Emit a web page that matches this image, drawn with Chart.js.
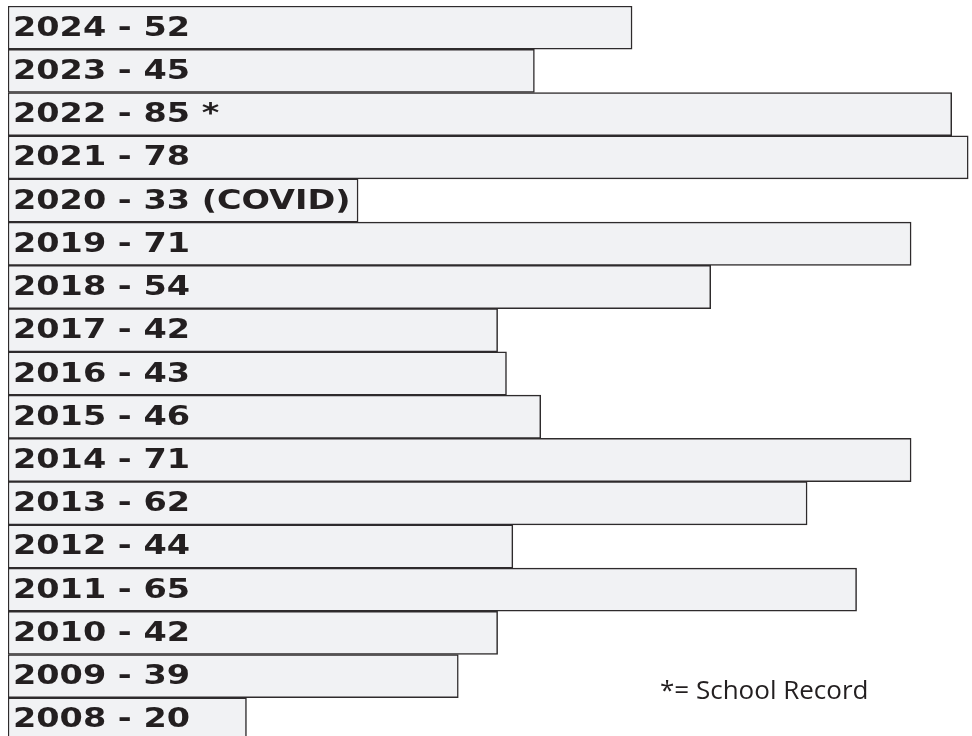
<!DOCTYPE html>
<html>
<head>
<meta charset="utf-8">
<script src="https://cdn.jsdelivr.net/npm/chart.js@4"></script>
<style>
  html, body { margin: 0; padding: 0; background: #fff; overflow: hidden; }
  #wrap { position: relative; width: 972px; height: 741px; }
</style>
</head>
<body>
<div id="wrap"><canvas id="recordChart"></canvas></div>
<script>
// seasons, top to bottom
const years = ['2024','2023','2022','2021','2020','2019','2018','2017','2016','2015','2014','2013','2012','2011','2010','2009','2008'];
// number printed in each bar
const counts = [52, 45, 85, 78, 33, 71, 54, 42, 43, 46, 71, 62, 44, 65, 42, 39, 20];
// extra text after the number
const notes = ['', '', ' *', '', ' (COVID)', '', '', '', '', '', '', '', '', '', '', '', ''];
// bar length as drawn in the picture (same units as counts, 2014 = 71)
const drawnLength = [49.2, 41.5, 74.4, 75.7, 27.6, 71.2, 55.4, 38.6, 39.3, 42.0, 71.2, 63.0, 39.8, 66.9, 38.6, 35.5, 18.8];
const footnote = '*= School Record';

const labelPlugin = {
  id: 'barLabels',
  afterDatasetsDraw(chart) {
    const c = chart.ctx;
    const meta = chart.getDatasetMeta(0);
    c.save();
    c.fillStyle = '#231f20';
    c.font = 'bold 27px "DejaVu Sans"';
    c.textBaseline = 'middle';
    meta.data.forEach((bar, i) => {
      const txt = years[i] + ' - ' + counts[i] + notes[i];
      c.save();
      c.translate(bar.base + 5, bar.y + 1);
      c.scale(1.24, 1);
      c.fillText(txt, 0, 0);
      c.restore();
    });
    // footnote
    c.font = '26px "Open Sans"';
    c.fillStyle = '#231f20';
    c.fillText(footnote, 660, 692);
    c.restore();
  }
};

new Chart(document.getElementById('recordChart'), {
  type: 'bar',
  data: {
    labels: years,
    datasets: [{
      data: drawnLength,
      backgroundColor: '#f1f2f4',
      borderColor: '#2e2b2c',
      borderWidth: 1.5,
      borderSkipped: false,
      barPercentage: 1,
      categoryPercentage: 1
    }]
  },
  options: {
    indexAxis: 'y',
    responsive: true,
    maintainAspectRatio: false,
    animation: false,
    layout: { padding: { left: 8, top: 6, right: 0, bottom: 0 } },
    plugins: {
      legend: { display: false },
      tooltip: { enabled: false }
    },
    scales: {
      x: { min: 0, max: 76, display: false },
      y: { display: false }
    }
  },
  plugins: [labelPlugin]
});
</script>
</body>
</html>
